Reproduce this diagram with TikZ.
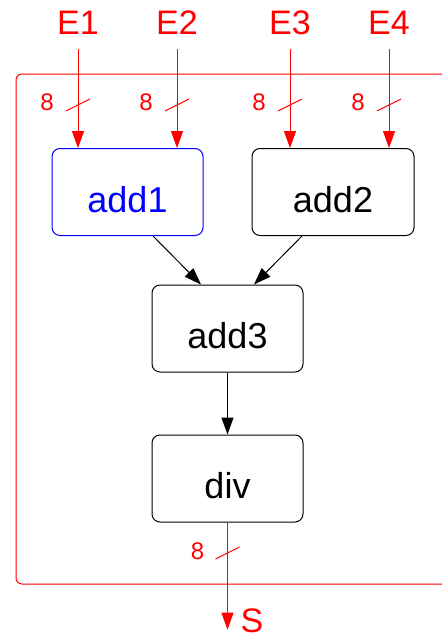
\documentclass[tikz,border=0pt]{standalone}
\usepackage{fontspec}
\setmainfont{Liberation Sans}
\usetikzlibrary{arrows.meta}

\begin{document}
\begin{tikzpicture}[x=1pt,y=-1pt,
		block/.style={draw=black, line width=1pt, rounded corners=8pt, minimum width=151pt, minimum height=87pt, inner sep=0pt, text height=40pt, text depth=0pt, font=\fontsize{36}{40}\selectfont},
		portlabel/.style={text=red, inner sep=0pt, font=\fontsize{34}{40}\selectfont},
		buswidth/.style={text=red, inner sep=0pt, font=\fontsize{24}{28}\selectfont},
		sig/.style={draw=red, line width=1pt, -{Triangle[length=17pt,width=12pt]}},
		flow/.style={draw=black, line width=1pt, -{Triangle[length=17pt,width=12pt]}},
		busmark/.style={draw=red, line width=1pt}]
		\clip (0,0) rectangle (442,637);
		% system frame
		\draw[red, line width=1pt, rounded corners=6pt] (16,74) rectangle (470,584);

		% blocks
		\node[block, draw=blue, text=blue] (add1) at (127.5,192) {add1};
		\node[block, minimum width=162pt] (add2) at (333,192) {add2};
		\node[block] (add3) at (227.5,328.5) {add3};
		\node[block] (div) at (227.5,478.5) {div};

		% inputs
		\node[portlabel] (E1) at (78,23) {E1};
		\node[portlabel] (E2) at (177,23) {E2};
		\node[portlabel] (E3) at (290,23) {E3};
		\node[portlabel] (E4) at (389,23) {E4};
		\draw[sig] ([yshift=-14pt]E1.south) -- (E1 |- add1.north);
		\draw[sig] ([yshift=-14pt]E2.south) -- (E2 |- add1.north);
		\draw[sig] ([yshift=-14pt]E3.south) -- (E3 |- add2.north);
		\draw[sig] ([yshift=-14pt]E4.south) -- (E4 |- add2.north);
		\foreach \p in {E1,E2,E3,E4} {
			\draw[busmark] (\p |- 0,105) ++(-12,6) -- ++(24,-12);
			\node[buswidth, xshift=-31pt] at (\p |- 0,102.5) {8};
		}

		% data flow
		\draw[flow] ([xshift=25.5pt]add1.south) -- ([xshift=-26.5pt]add3.north);
		\draw[flow] ([xshift=-31pt]add2.south) -- ([xshift=26.5pt]add3.north);
		\draw[flow] (add3) -- (div);

		% output
		\node[portlabel] (S) at (252,620.5) {S};
		\draw[sig] (div) -- ([yshift=3pt]div |- S.south);
		\draw[busmark] (div |- 0,553) ++(-12,6) -- ++(24,-12);
		\node[buswidth, xshift=-30pt] at (div |- 0,551) {8};
	\end{tikzpicture}
\end{document}
